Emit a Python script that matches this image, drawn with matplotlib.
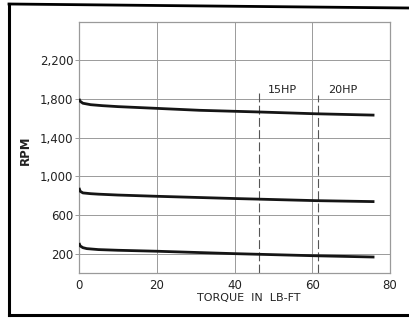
import matplotlib
matplotlib.use("Agg")
import matplotlib.pyplot as plt
from matplotlib.lines import Line2D

# Curvas RPM x torque
torque_high = [0, 0.3, 1, 3, 6, 10, 20, 31, 46, 61, 76]
rpm_high = [1800, 1775, 1755, 1740, 1730, 1720, 1702, 1682, 1665, 1646, 1632]

torque_mid = [0, 0.3, 1, 3, 5, 10, 20, 40, 61, 76]
rpm_mid = [880, 845, 828, 820, 815, 806, 793, 770, 748, 738]

torque_low = [0, 0.3, 1, 2, 5, 10, 20, 40, 61, 76]
rpm_low = [310, 280, 262, 252, 242, 235, 225, 200, 178, 165]

# Limites de potência
hp_torque = [46.3, 61.5]
hp_top = [1865, 1845]
hp_labels = ["15HP", "20HP"]
hp_label_x = [48.5, 64.0]

xticks = [0, 20, 40, 60, 80]
yticks = [200, 600, 1000, 1400, 1800, 2200]
ytick_labels = ["200", "600", "1,000", "1,400", "1,800", "2,200"]

fig = plt.figure(figsize=(4.09, 3.2), dpi=100)
ax = fig.add_axes([79 / 409, 47 / 320, 311 / 409, 251.5 / 320])

grid_c = "#9a9a9a"
for x in xticks[1:-1]:
    ax.axvline(x, color=grid_c, lw=0.7, zorder=1)
for y in yticks:
    ax.axhline(y, color=grid_c, lw=0.7, zorder=1)

for xt, yt in zip(hp_torque, hp_top):
    ax.plot([xt, xt], [0, yt], color="#555555", lw=0.8,
            dashes=(8, 3), zorder=2)
for lx, lab in zip(hp_label_x, hp_labels):
    ax.text(lx, 1890, lab, fontsize=8, ha="left", va="center",
            color="#222222")

for tx, ry in [(torque_high, rpm_high), (torque_mid, rpm_mid),
               (torque_low, rpm_low)]:
    ax.plot(tx, ry, color="#151515", lw=2.0, solid_capstyle="butt",
            zorder=3)

ax.set_xlim(0, 80)
ax.set_ylim(0, 2600)
ax.set_xticks(xticks)
ax.set_yticks(yticks)
ax.set_yticklabels(ytick_labels)
ax.tick_params(axis="x", length=0, pad=4, labelsize=8.5, colors="#222222")
ax.tick_params(axis="y", length=3, width=0.7, color=grid_c, pad=1,
               labelsize=8.5, labelcolor="#222222")
for sp in ax.spines.values():
    sp.set_color(grid_c)
    sp.set_linewidth(0.9)

ax.set_xlabel("TORQUE  IN  LB-FT", fontsize=8, color="#222222")
ax.xaxis.set_label_coords(0.547, -0.08)
ax.set_ylabel("RPM", fontsize=8.5, color="#222222", fontweight="bold")
ax.yaxis.set_label_coords(-0.151, 0.49)

# Moldura externa da figura
fig.add_artist(Line2D([9 / 409, 9 / 409], [1 - 4 / 320, 1 - 315 / 320],
                      color="black", lw=2.2))
fig.add_artist(Line2D([9 / 409, 1.0], [1 - 4 / 320, 1 - 8 / 320],
                      color="black", lw=2.0))
fig.add_artist(Line2D([9 / 409, 1.0], [1 - 315 / 320, 1 - 315 / 320],
                      color="black", lw=2.2))

fig.savefig("out.png", dpi=100)
